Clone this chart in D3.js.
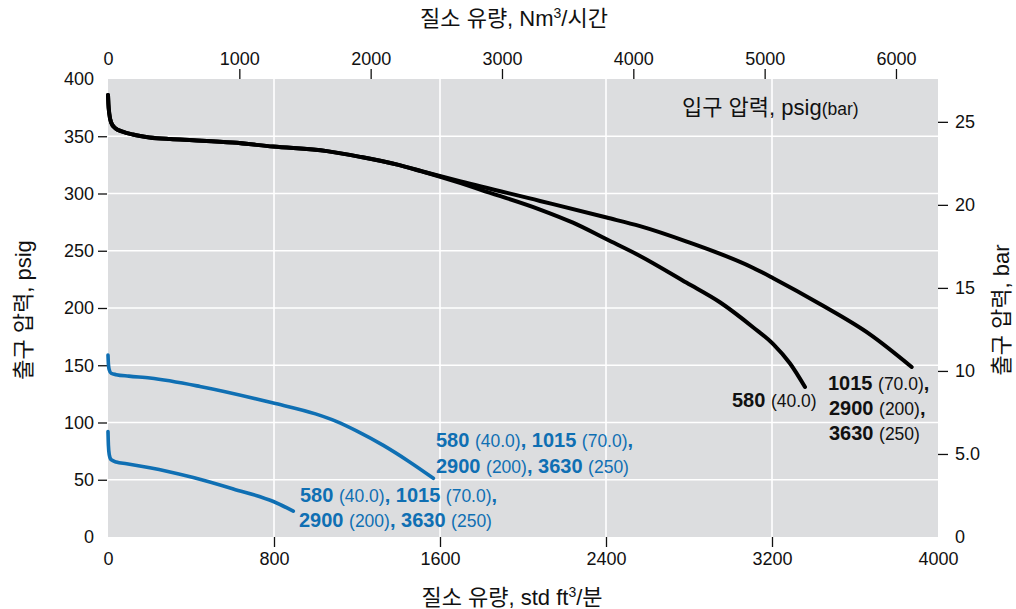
<!DOCTYPE html>
<html><head><meta charset="utf-8">
<script src="https://cdn.jsdelivr.net/npm/d3@7"></script>
<style>
body{margin:0;background:#fff;}
svg text{font-family:"Liberation Sans","Noto Sans CJK KR",Arial,sans-serif;fill:#111;}
</style></head>
<body><svg id="c" width="1016" height="609"></svg>
<script>
// ---- data ----
const bottomTicks = [0, 800, 1600, 2400, 3200, 4000];
const topTicks = [0, 1000, 2000, 3000, 4000, 5000, 6000];
const leftTicks = [0, 50, 100, 150, 200, 250, 300, 350, 400];
const rightTicks = [0, 5, 10, 15, 20, 25];
const rightTickLabels = ["0", "5.0", "10", "15", "20", "25"];

const blackHighX = [0, 2, 6, 15, 35, 70, 120, 200, 300, 410, 600, 795, 1055, 1215, 1400, 1520, 1700, 2082, 2403, 2564, 2789, 3110, 3206, 3431, 3672, 3873];
const blackHighY = [386, 378, 370, 362, 357, 354, 351.5, 349, 347.5, 346.5, 344.5, 341, 337, 332, 325, 319, 310.5, 293.5, 279, 271.5, 258, 235, 226, 203.5, 177, 148.5];
const black580X = [0, 2, 6, 15, 35, 70, 120, 200, 300, 410, 600, 795, 1055, 1215, 1400, 1520, 1700, 1800, 2082, 2241, 2403, 2564, 2789, 2949, 3110, 3206, 3287, 3359];
const black580Y = [386, 378, 370, 362, 357, 354, 351.5, 349, 347.5, 346.5, 344.5, 341, 337, 332, 325, 319, 309, 303, 286, 274.5, 260, 245.5, 222, 205, 183, 168.5, 151.5, 131];
const blueUpperX = [0, 2, 6, 15, 40, 100, 202, 443, 797, 1000, 1100, 1200, 1327, 1450, 1568];
const blueUpperY = [159, 151, 146, 143, 141.8, 140.5, 138.8, 131.5, 117, 107.5, 101, 92.5, 80, 66, 51.3];
const blueLowerX = [0, 2, 6, 15, 40, 90, 283, 411, 604, 797, 893];
const blueLowerY = [92, 80, 72, 67.5, 65.5, 64, 57.5, 52, 42, 31, 22.6];

const NM3_PER_SCFM = 1.58;
const PSI_PER_BAR = 14.5038;

// ---- layout ----
const L = 108, R = 938, T = 79, B = 537;
const svg = d3.select("#c");
const x = d3.scaleLinear().domain([0, 4000]).range([L, R]);
const xTop = d3.scaleLinear().domain([0, 4000 * NM3_PER_SCFM]).range([L, R]);
const y = d3.scaleLinear().domain([0, 400]).range([B, T]);
const yR = d3.scaleLinear().domain([0, 400 / PSI_PER_BAR]).range([B, T]);

svg.append("rect").attr("x", L).attr("y", T).attr("width", R - L).attr("height", B - T).attr("fill", "#dcdddf");

// grid
svg.append("g").selectAll("line").data(leftTicks.filter(d => d > 0 && d < 400)).join("line")
  .attr("x1", L).attr("x2", R).attr("y1", d => y(d)).attr("y2", d => y(d))
  .attr("stroke", "#fff").attr("stroke-width", 1.6);
svg.append("g").selectAll("line").data(bottomTicks.filter(d => d > 0 && d < 4000)).join("line")
  .attr("y1", T).attr("y2", B).attr("x1", d => x(d)).attr("x2", d => x(d))
  .attr("stroke", "#fff").attr("stroke-width", 1.6);

function styleAxis(g, edgeVals) {
  g.select(".domain").remove();
  g.selectAll(".tick text").style("font-size", "18px").attr("fill", "#111");
  g.selectAll(".tick line").attr("stroke", "#111").attr("stroke-width", 1.3)
    .filter(d => edgeVals.includes(d)).remove();
}
const gB = svg.append("g").attr("transform", `translate(0,${B})`)
  .call(d3.axisBottom(x).tickValues(bottomTicks).tickSize(10).tickPadding(5).tickFormat(d3.format("d")));
styleAxis(gB, [0, 4000]);
const gT = svg.append("g").attr("transform", `translate(0,${T})`)
  .call(d3.axisTop(xTop).tickValues(topTicks).tickSize(10).tickPadding(4).tickFormat(d3.format("d")));
styleAxis(gT, [0]);
const gL = svg.append("g").attr("transform", `translate(${L - 1},0)`)
  .call(d3.axisLeft(y).tickValues(leftTicks).tickSize(9).tickPadding(4).tickFormat(d3.format("d")));
styleAxis(gL, [0, 400]);
const gR = svg.append("g").attr("transform", `translate(${R},0)`)
  .call(d3.axisRight(yR).tickValues(rightTicks).tickSize(10).tickPadding(7).tickFormat((d, i) => rightTickLabels[i]));
styleAxis(gR, [0]);

// curves
const line = d3.line().x(d => x(d[0])).y(d => y(d[1])).curve(d3.curveMonotoneX);
function draw(xs, ys, color, w) {
  svg.append("path").datum(xs.map((v, i) => [v, ys[i]])).attr("d", line)
    .attr("fill", "none").attr("stroke", color).attr("stroke-width", w)
    .attr("stroke-linecap", "round").attr("stroke-linejoin", "round");
}
const BLUE = "#0f6fb3";
draw(black580X, black580Y, "#000", 4);
draw(blackHighX, blackHighY, "#000", 4);
draw(blueUpperX, blueUpperY, BLUE, 3.6);
draw(blueLowerX, blueLowerY, BLUE, 3.6);

// multi-part labels: [text, big?]
function label(px, py, parts, color) {
  const t = svg.append("text").attr("x", px).attr("y", py).attr("fill", color);
  parts.forEach(p => {
    t.append("tspan").text(p[0]).style("font-size", p[1] ? "20px" : "17.5px")
      .style("font-weight", p[1] ? "bold" : "normal").attr("fill", color);
  });
  return t;
}
label(732, 407, [["580 ", 1], ["(40.0)", 0]], "#111");
label(828, 390, [["1015 ", 1], ["(70.0)", 0], [",", 1]], "#111");
label(829, 415, [["2900 ", 1], ["(200)", 0], [",", 1]], "#111");
label(829, 440, [["3630 ", 1], ["(250)", 0]], "#111");

label(436, 447, [["580 ", 1], ["(40.0)", 0], [", 1015 ", 1], ["(70.0)", 0], [",", 1]], BLUE);
label(436, 473, [["2900 ", 1], ["(200)", 0], [", 3630 ", 1], ["(250)", 0]], BLUE);
label(300, 502, [["580 ", 1], ["(40.0)", 0], [", 1015 ", 1], ["(70.0)", 0], [",", 1]], BLUE);
label(299, 527, [["2900 ", 1], ["(200)", 0], [", 3630 ", 1], ["(250)", 0]], BLUE);

// inlet pressure legend
const inl = svg.append("text").attr("x", 682).attr("y", 115).style("font-size", "22px");
inl.append("tspan").text("입구 압력, psig");
inl.append("tspan").text("(bar)").style("font-size", "17.5px");

// axis titles
const tt = svg.append("text").attr("x", 514).attr("y", 26).attr("text-anchor", "middle").style("font-size", "22px");
tt.append("tspan").text("질소 유량, Nm");
tt.append("tspan").text("3").style("font-size", "14px").attr("dy", -8);
tt.append("tspan").text("/시간").attr("dy", 8);

const bt = svg.append("text").attr("x", 512).attr("y", 605).attr("text-anchor", "middle").style("font-size", "22px");
bt.append("tspan").text("질소 유량, std ft");
bt.append("tspan").text("3").style("font-size", "14px").attr("dy", -8);
bt.append("tspan").text("/분").attr("dy", 8);

svg.append("text").attr("transform", "translate(31,310) rotate(-90)").attr("text-anchor", "middle")
  .style("font-size", "22px").text("출구 압력, psig");
svg.append("text").attr("transform", "translate(1009,310) rotate(-90)").attr("text-anchor", "middle")
  .style("font-size", "22px").text("출구 압력, bar");
</script></body></html>
